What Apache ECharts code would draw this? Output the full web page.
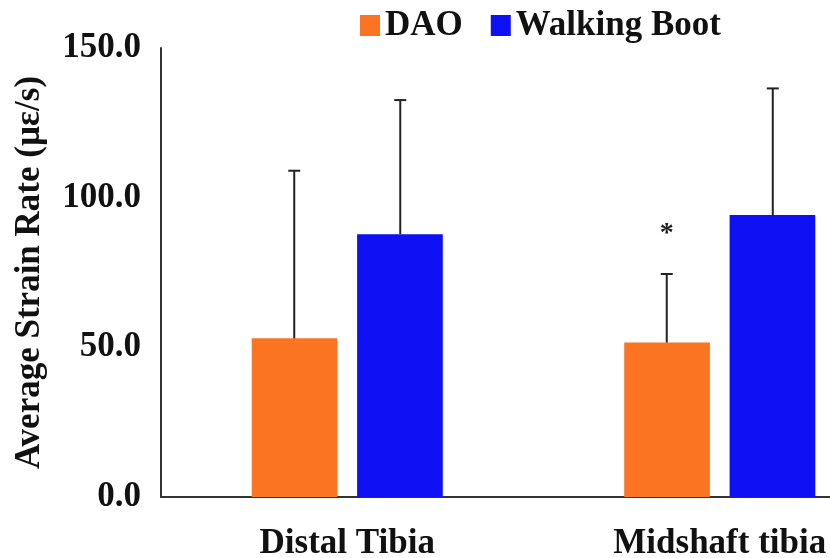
<!DOCTYPE html>
<html>
<head>
<meta charset="utf-8">
<script src="https://cdn.jsdelivr.net/npm/echarts@6/dist/echarts.min.js"></script>
<style>
  html, body { margin: 0; padding: 0; background: #fff; }
  #chart { width: 830px; height: 558px; }
</style>
</head>
<body>
<div id="chart"></div>
<script>
// Tibial strain rate by site and footwear
const categories = ['Distal Tibia', 'Midshaft tibia'];
const seriesNames = ['DAO', 'Walking Boot'];
const daoMean = [53.0, 51.6];
const daoSD = [56.0, 22.9];
const bootMean = [87.8, 94.2];
const bootSD = [44.8, 42.3];
const daoMarks = ['', '*'];
const yTicks = [0, 50, 100, 150];

const FONT = '"Liberation Serif", "Times New Roman", serif';
const colors = ['#FA7421', '#1010F4'];

// half the distance between the two bar centres, as a share of a category band
const OFFSET = 0.1423;

function errorSeries(name, means, sds, dir, marks) {
  return {
    type: 'custom',
    name: name + ' SD',
    z: 5,
    data: means.map((m, i) => [i, m, sds[i], marks ? marks[i] : '']),
    renderItem: function (params, api) {
      const i = api.value(0);
      const band = api.size([1, 0])[0];
      const base = api.coord([i, api.value(1)]);
      const top = api.coord([i, api.value(1) + api.value(2)]);
      const x = base[0] + dir * OFFSET * band;
      const cap = 6;
      const style = { stroke: '#222', lineWidth: 2 };
      const children = [
        { type: 'line', shape: { x1: x, y1: base[1], x2: x, y2: top[1] }, style: style },
        { type: 'line', shape: { x1: x - cap, y1: top[1], x2: x + cap, y2: top[1] }, style: style }
      ];
      const mark = api.value(3);
      if (mark) {
        children.push({
          type: 'text',
          style: {
            text: mark, x: x, y: top[1] - 40,
            align: 'center', verticalAlign: 'middle',
            font: 'bold 28px ' + FONT, fill: '#222'
          }
        });
      }
      return { type: 'group', children: children };
    }
  };
}

const chart = echarts.init(document.getElementById('chart'), null, { renderer: 'canvas' });
chart.setOption({
  animation: false,
  color: colors,
  legend: {
    data: seriesNames,
    left: 355,
    top: 3,
    itemWidth: 20,
    itemHeight: 21,
    itemGap: 28,
    icon: 'rect',
    textStyle: { fontFamily: FONT, fontWeight: 'bold', fontSize: 35, color: '#111', padding: [0, 0, 0, 0] }
  },
  // the plot area runs past the right edge of the canvas
  grid: { left: 161, top: 48, bottom: 61, width: 745, containLabel: false, outerBoundsMode: 'none' },
  xAxis: {
    type: 'category',
    data: categories,
    axisLine: { lineStyle: { color: '#333', width: 2 } },
    axisTick: { show: false },
    axisLabel: { margin: 29, fontFamily: FONT, fontWeight: 'bold', fontSize: 35, color: '#111' }
  },
  yAxis: {
    type: 'value',
    min: yTicks[0],
    max: yTicks[yTicks.length - 1],
    interval: yTicks[1] - yTicks[0],
    name: 'Average Strain Rate (µε/s)',
    nameLocation: 'middle',
    nameGap: 114,
    nameTextStyle: { fontFamily: FONT, fontWeight: 'bold', fontSize: 35, color: '#111' },
    axisLine: { show: true, lineStyle: { color: '#333', width: 2 } },
    axisTick: { show: false },
    splitLine: { show: false },
    axisLabel: {
      margin: 20,
      fontFamily: FONT, fontWeight: 'bold', fontSize: 35, color: '#111',
      formatter: v => v.toFixed(1)
    }
  },
  series: [
    { name: seriesNames[0], type: 'bar', data: daoMean, barWidth: '23%', barGap: '23%', itemStyle: { color: colors[0] } },
    { name: seriesNames[1], type: 'bar', data: bootMean, barWidth: '23%', barGap: '23%', itemStyle: { color: colors[1] } },
    errorSeries(seriesNames[0], daoMean, daoSD, -1, daoMarks),
    errorSeries(seriesNames[1], bootMean, bootSD, 1, null)
  ]
});
</script>
</body>
</html>
